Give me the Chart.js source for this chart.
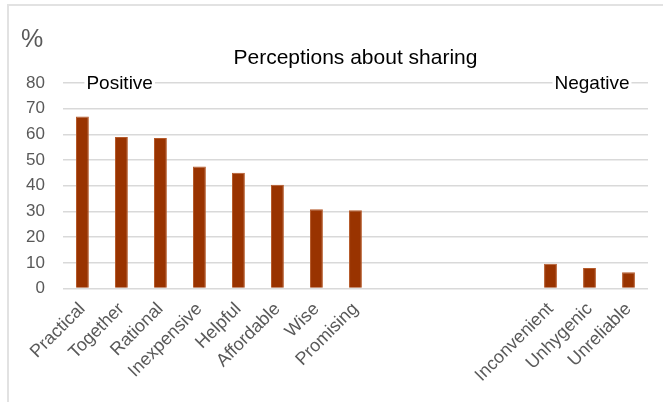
<!DOCTYPE html>
<html>
<head>
<meta charset="utf-8">
<script src="https://cdn.jsdelivr.net/npm/chart.js@4"></script>
<style>
  html, body { margin: 0; padding: 0; background: #fff; }
  #wrap { position: relative; width: 663px; height: 402px; }
  #frame { position: absolute; left: 7px; top: 4px; right: 0; bottom: 0;
           border-top: 2px solid #e2e2e2; border-left: 2px solid #e2e2e2; pointer-events: none; }
</style>
</head>
<body>
<div id="wrap">
  <canvas id="myChart" width="663" height="402"></canvas>
  <div id="frame"></div>
</div>
<script>
// empty strings / nulls keep the gap between the two groups
const categories = [
  "Practical", "Together", "Rational", "Inexpensive", "Helpful", "Affordable", "Wise", "Promising",
  "", "", "", "",
  "Inconvenient", "Unhygenic", "Unreliable",
];
const shares = [67, 59, 58.6, 47.5, 45.1, 40.4, 30.9, 30.5, null, null, null, null, 9.7, 8, 6.3];
const yTicks = [0, 10, 20, 30, 40, 50, 60, 70, 80];
const groupLabels = [
  { text: "Positive", at: 0 },
  { text: "Negative", at: 12 },
];

const fontFamily = "'Liberation Sans', Arial, sans-serif";

const annotations = {
  id: "annotations",
  afterDatasetsDraw(chart) {
    const { ctx, chartArea, scales } = chart;
    ctx.save();
    ctx.textBaseline = "middle";

    // unit label
    ctx.fillStyle = "#595959";
    ctx.font = "25px " + fontFamily;
    ctx.textAlign = "left";
    ctx.fillText("%", 21, 40);

    // title
    ctx.fillStyle = "#000";
    ctx.font = "21px " + fontFamily;
    ctx.textAlign = "center";
    ctx.fillText("Perceptions about sharing", (chartArea.left + chartArea.right) / 2, 58);

    // group labels sitting on the top gridline
    ctx.font = "19px " + fontFamily;
    ctx.textAlign = "left";
    const y = scales.y.getPixelForValue(80);
    groupLabels.forEach(g => {
      const x = scales.x.getPixelForValue(g.at) + 4;
      const w = ctx.measureText(g.text).width;
      ctx.fillStyle = "#fff";
      ctx.fillRect(x - 2, y - 10, w + 4, 20);
      ctx.fillStyle = "#000";
      ctx.fillText(g.text, x, y + 1);
    });
    ctx.restore();
  },
};

const config = {
  type: "bar",
  data: {
    labels: categories,
    datasets: [
      {
        data: shares,
        backgroundColor: "#993300",
        borderColor: "#b55a2a",
        borderWidth: 1,
        barPercentage: 0.33,
        categoryPercentage: 1,
      },
    ],
  },
  options: {
    responsive: false,
    animation: false,
    layout: { padding: { top: 83, left: 8, right: 15, bottom: 14 } },
    plugins: {
      legend: { display: false },
      tooltip: { enabled: false },
    },
    scales: {
      x: {
        grid: { display: false },
        border: { display: false },
        ticks: {
          autoSkip: false,
          minRotation: 45,
          maxRotation: 45,
          color: "#595959",
          padding: 2,
          font: { family: fontFamily, size: 18 },
        },
      },
      y: {
        min: 0,
        max: 80,
        afterBuildTicks: axis => { axis.ticks = yTicks.map(v => ({ value: v })); },
        grid: { color: "#d9d9d9", lineWidth: 1.5, drawTicks: false },
        border: { display: false },
        ticks: {
          color: "#595959",
          padding: 18,
          font: { family: fontFamily, size: 17 },
        },
      },
    },
  },
  plugins: [annotations],
};

var myChart = new Chart(document.getElementById("myChart"), config);
</script>
</body>
</html>
